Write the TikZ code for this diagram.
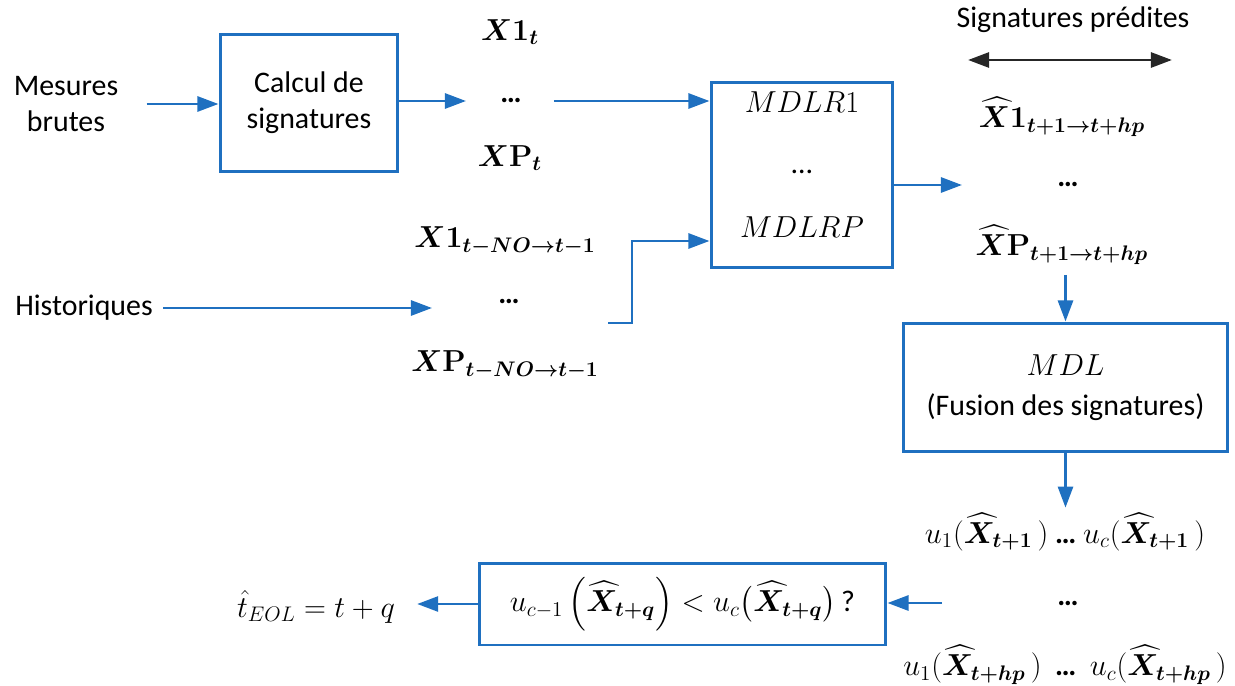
\documentclass[tikz,border=0pt]{standalone}
\usepackage{amsmath,amssymb}
\usepackage{bm}
\usepackage[no-math]{fontspec}
\setmainfont{Carlito}
\usepackage{tikz}
\usetikzlibrary{arrows.meta}
\definecolor{flowblue}{RGB}{31,112,192}
\tikzstyle{block} = [draw=flowblue,line width=1.7pt,align=center,inner sep=2pt]
\tikzstyle{txt} = [inner sep=0pt,align=center]
\tikzstyle{arrow} = [-{Triangle[length=12pt,width=8.5pt]},flowblue,line width=1.7pt]
\tikzstyle{dblarrow} = [{Triangle[length=12pt,width=8.5pt]}-{Triangle[length=12pt,width=8.5pt]},black!85,line width=1.7pt]
\newcommand{\bdots}{{\bfseries\ldots}}

\begin{document}
\begin{tikzpicture}[x=0.02cm,y=-0.02cm,font=\fontsize{17}{20.5}\selectfont]
    \useasboundingbox (0,0) rectangle (1235,686);
    % raw measurements -> signatures
    \node[txt] (mesures) at (66,104) {Mesures\\brutes};
    \node[block,minimum width=3.56cm,minimum height=2.76cm] (calcul) at (309,103) {Calcul de\\signatures};
    \node[txt] (xunt) at (510,32) {$\bm{X}\mathbf{1}_{\bm{t}}$};
    \node[txt] (dotsa) at (511,101) {\bdots};
    \node[txt] (xpt) at (510,158) {$\bm{X}\mathbf{P}_{\bm{t}}$};
    % history
    \node[txt] (hist) at (84,308) {Historiques};
    \node[txt] (xunh) at (505,241) {$\bm{X}\mathbf{1}_{\bm{t-NO\to t-}\mathbf{1}}$};
    \node[txt] (dotsb) at (509,302) {\bdots};
    \node[txt] (xph) at (505,365) {$\bm{X}\mathbf{P}_{\bm{t-NO\to t-}\mathbf{1}}$};
    \coordinate (hfrom) at (608,323);
    \coordinate (hbend) at (632,323);
    % regression models
    \node[block,minimum width=3.64cm,minimum height=3.72cm] (mdlr) at (802,175) {};
    \node[txt] (mdlrun) at (802,102) {$MDLR1$};
    \node[txt] (mdlrdots) at (802,172) {\ldots};
    \node[txt] (mdlrp) at (802,227) {$MDLRP$};
    % predicted signatures
    \node[txt] (sig) at (1073,20) {Signatures prédites};
    \coordinate (sigl) at (968,60);
    \coordinate (sigr) at (1172,60);
    \node[txt] (hatxun) at (1062,117) {$\widehat{\bm{X}}\mathbf{1}_{\bm{t+}\mathbf{1}\bm{\to t+hp}}$};
    \node[txt] (dotsc) at (1068,185) {\bdots};
    \node[txt] (hatxp) at (1062,245) {$\widehat{\bm{X}}\mathbf{P}_{\bm{t+}\mathbf{1}\bm{\to t+hp}}$};
    % fusion
    \node[block,minimum width=6.5cm,minimum height=2.58cm] (mdl) at (1065.5,387.5) {$MDL$\\[2pt](Fusion des signatures)};
    \node[txt] (urowa) at (1065,532) {$u_1(\widehat{\bm{X}}_{\bm{t+1}}\,)$ \bdots\ $u_c(\widehat{\bm{X}}_{\bm{t+1}}\,)$};
    \node[txt] (dotsd) at (1068,603) {\bdots};
    \node[txt] (urowb) at (1065,665) {$u_1(\widehat{\bm{X}}_{\bm{t+hp}}\,)$\ \ \bdots\ \ $u_c(\widehat{\bm{X}}_{\bm{t+hp}}\,)$};
    % decision
    \node[block,minimum width=8.14cm,minimum height=1.64cm] (dec) at (682.5,604) {$u_{c-1}\left(\widehat{\bm{X}}_{\bm{t+q}}\right) < u_c\bigl(\widehat{\bm{X}}_{\bm{t+q}}\bigr)$\,?};
    \node[txt] (teol) at (316,607) {$\hat{t}_{EOL} = t + q$};
    % connectors
    \draw[arrow,shorten <=0.56cm] (mesures.east) -- (mesures.east -| calcul.west);
    \draw[arrow,shorten >=0.68cm] (calcul.east |- dotsa) -- (dotsa.west);
    \draw[arrow,shorten <=0.64cm] (dotsa.east) -- (dotsa.east -| mdlr.west);
    \draw[arrow,shorten <=0.2cm,shorten >=1.32cm] (hist.east) -- (hist.east -| dotsb.west);
    \draw[arrow] (hfrom) -- (hbend) |- (xunh -| mdlr.west);
    \draw[arrow,shorten >=1.9cm] (mdlr.east |- dotsc) -- (dotsc.west);
    \draw[dblarrow] (sigl) -- (sigr);
    \draw[arrow,shorten <=0.2cm] (mdl.north |- hatxp.south) -- (mdl.north);
    \draw[arrow,shorten >=0.1cm] (mdl.south) -- (urowa.north -| mdl.south);
    \draw[arrow,shorten <=2.3cm] (dotsd.west) -- (dotsd.west -| dec.east);
    \draw[arrow,shorten >=0.44cm] (dec.west) -- (dec.west -| teol.east);
\end{tikzpicture}
\end{document}
